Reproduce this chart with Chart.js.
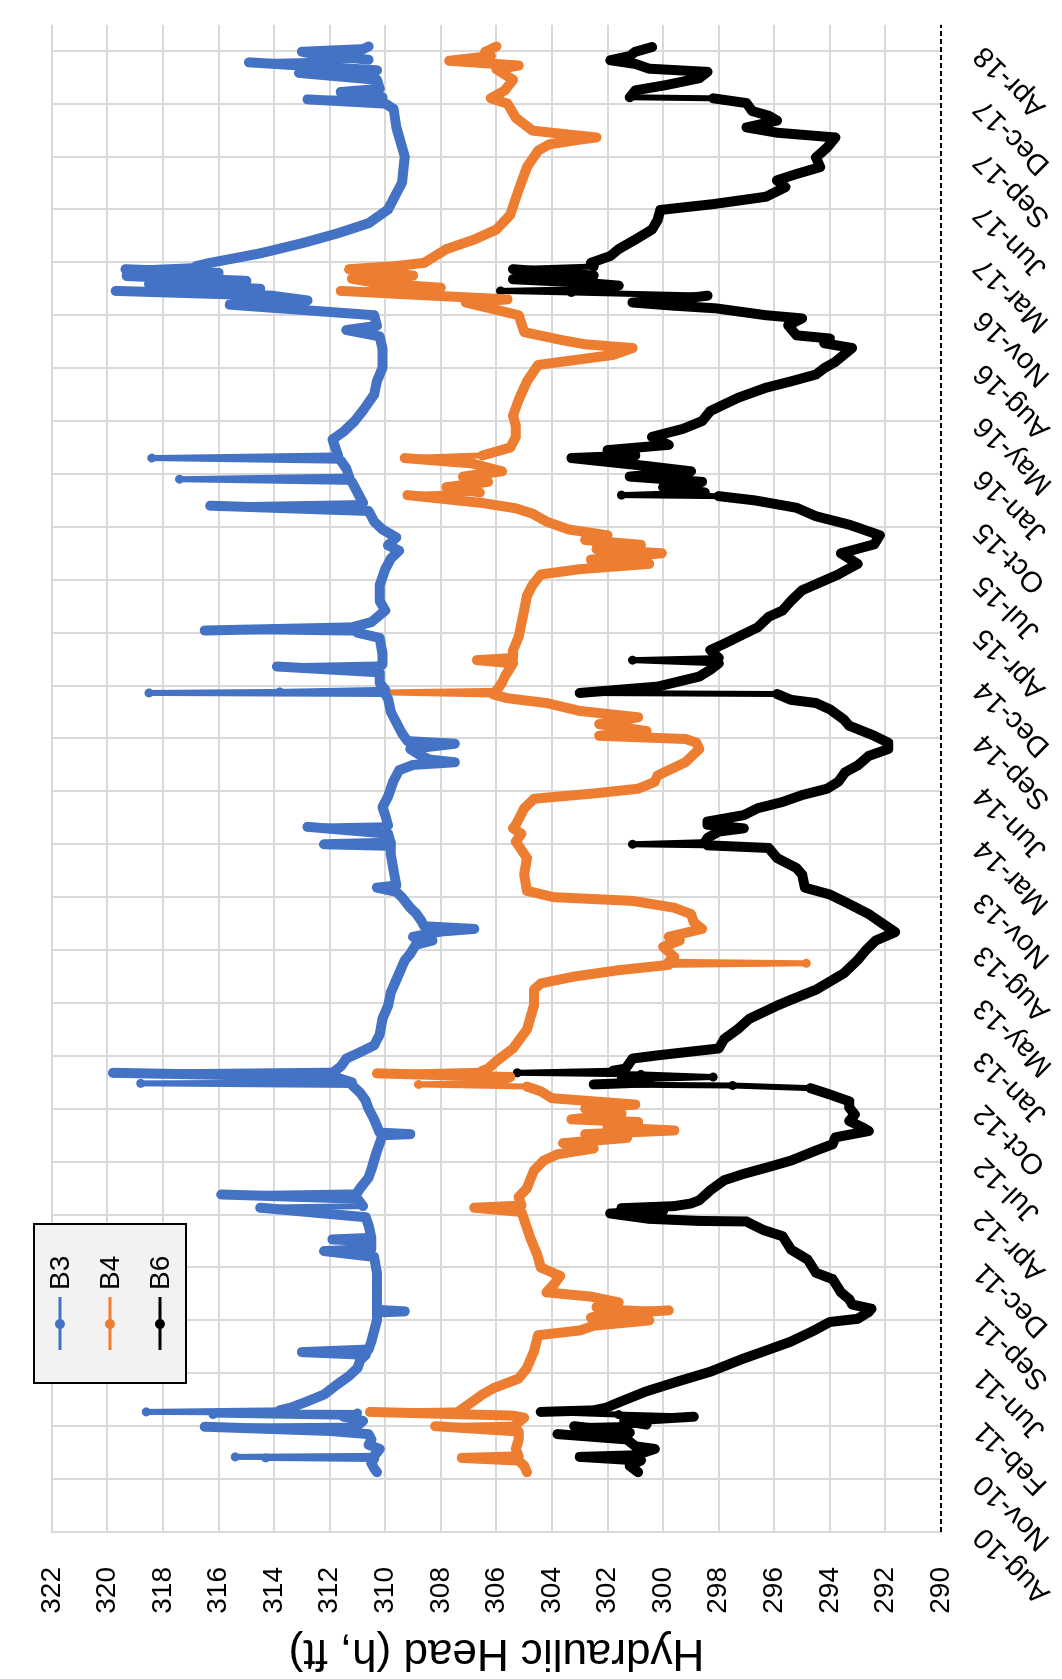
<!DOCTYPE html>
<html>
<head>
<meta charset="utf-8">
<script src="https://cdn.jsdelivr.net/npm/chart.js@4.4.1/dist/chart.umd.min.js"></script>
<style>
  html, body { margin: 0; padding: 0; background: #fff; }
  body { width: 1062px; height: 1679px; overflow: hidden; position: relative; }
  /* chart is drawn landscape, then turned a quarter turn counter-clockwise */
  #wrap { position: absolute; left: 0; top: 0; width: 1679px; height: 1062px;
          transform-origin: 0 0; transform: translateY(1679px) rotate(-90deg); }
</style>
</head>
<body>
<div id="wrap"><canvas id="chart" width="1679" height="1062"></canvas></div>
<script>
// date axis: one unit = one labelled step
const dateLabels = ['Aug-10','Nov-10','Feb-11','Jun-11','Sep-11','Dec-11','Apr-12','Jul-12','Oct-12',
  'Jan-13','May-13','Aug-13','Nov-13','Mar-14','Jun-14','Sep-14','Dec-14','Apr-15','Jul-15','Oct-15',
  'Jan-16','May-16','Aug-16','Nov-16','Mar-17','Jun-17','Sep-17','Dec-17','Apr-18'];
const dateMax = 28.49;
const headMin = 290, headMax = 322, headStep = 2;
const seriesNames = ['B3', 'B4', 'B6'];
const seriesColors = ['#4472C4', '#ED7D31', '#000000'];

// [date position, hydraulic head (ft)]
const b3 = [[1.13,310.3],[1.2,310.4],[1.3,310.5],[1.38,310.4],[1.40,314.3],[1.41,310.5],[1.42,315.4],[1.44,310.4],
  [1.5,310.3],[1.57,310.2],[1.65,310.6],[1.75,310.5],[1.85,310.6],[1.91,312.0],[1.99,316.5],[2.01,311.0],[2.1,310.8],
  [2.18,311.5],[2.22,316.2],[2.25,311.0],[2.27,318.6],[2.3,313.8],[2.35,313.4],[2.47,312.8],[2.6,312.2],[2.8,311.7],
  [2.95,311.3],[3.1,311.0],[3.25,310.9],[3.35,310.7],[3.4,313.0],[3.45,310.6],[3.6,310.5],[3.8,310.4],[4.0,310.3],
  [4.15,310.3],[4.17,309.3],[4.2,310.3],[4.5,310.3],[4.9,310.3],[5.2,310.4],[5.31,312.2],[5.35,310.5],[5.5,310.5],
  [5.53,311.9],[5.56,310.5],[5.8,310.6],[5.95,310.7],[6.13,314.5],[6.16,310.8],[6.3,311.0],[6.38,315.9],[6.42,311.0],
  [6.5,310.9],[6.7,310.6],[6.85,310.5],[7.2,310.3],[7.5,310.1],[7.52,309.1],[7.55,310.2],[7.8,310.4],[8.0,310.6],
  [8.15,310.7],[8.3,310.9],[8.45,311.2],[8.48,318.8],[8.5,311.2],[8.6,311.8],[8.68,319.8],[8.72,311.8],[8.8,311.6],
  [8.95,311.4],[9.07,310.9],[9.2,310.4],[9.4,310.2],[9.7,310.1],[9.95,309.9],[10.2,309.8],[10.56,309.5],[10.8,309.3],
  [10.93,309.1],[11.1,308.9],[11.18,308.3],[11.25,309.0],[11.35,308.0],[11.4,306.8],[11.45,308.6],[11.55,308.7],
  [11.7,308.9],[11.8,309.1],[12.0,309.4],[12.1,309.6],[12.18,310.3],[12.22,309.6],[12.5,309.7],[12.8,309.8],
  [12.97,309.8],[13.0,312.2],[13.03,309.8],[13.2,309.9],[13.33,312.8],[13.36,309.9],[13.55,310.0],[13.7,310.1],
  [13.9,309.9],[14.2,309.7],[14.4,309.5],[14.5,309.0],[14.55,307.5],[14.6,308.4],[14.7,308.8],[14.8,309.1],
  [14.9,307.5],[14.95,309.2],[15.1,309.4],[15.3,309.6],[15.5,309.8],[15.75,309.9],[15.84,310.0],[15.86,318.5],
  [15.88,313.8],[15.92,310.0],[16.05,310.2],[16.25,310.2],[16.36,313.9],[16.4,310.1],[16.6,310.1],[16.9,310.2],
  [17.0,311.0],[17.04,316.5],[17.1,311.2],[17.2,310.5],[17.42,310.0],[17.6,310.2],[17.9,310.2],[18.2,310.0],
  [18.4,309.8],[18.55,309.5],[18.65,309.9],[18.8,309.6],[18.95,310.1],[19.1,310.4],[19.3,310.6],[19.4,316.3],
  [19.45,310.8],[19.65,311.0],[19.85,311.2],[19.9,317.4],[19.95,311.3],[20.1,311.4],[20.25,311.6],[20.3,318.4],
  [20.35,311.7],[20.5,311.8],[20.65,311.9],[20.8,311.5],[21.0,311.1],[21.2,310.8],[21.5,310.4],[21.75,310.3],
  [22.0,310.1],[22.38,310.1],[22.6,310.2],[22.72,311.4],[22.8,310.3],[23.0,310.4],[23.1,313.0],[23.2,315.6],
  [23.28,312.8],[23.37,314.1],[23.46,319.7],[23.5,314.5],[23.59,318.5],[23.65,315.0],[23.74,319.3],[23.8,316.0],
  [23.87,319.35],[23.93,316.8],[23.99,316.3],[24.17,314.5],[24.36,313.0],[24.55,311.7],[24.74,310.6],[25.0,309.9],
  [25.5,309.4],[26.0,309.3],[26.55,309.6],[26.9,309.7],[27.0,310.0],[27.08,312.8],[27.12,310.1],[27.22,311.6],
  [27.28,310.2],[27.45,310.3],[27.58,313.1],[27.63,310.3],[27.78,314.9],[27.83,310.6],[27.93,312.5],[27.98,313.0],
  [28.03,310.8],[28.08,310.6]];

const b4 = [[1.13,304.9],[1.25,305.0],[1.35,305.2],[1.4,307.25],[1.43,305.2],[1.57,305.3],[1.75,305.2],[1.9,305.2],
  [2.0,308.2],[2.03,305.3],[2.16,305.0],[2.2,305.4],[2.27,310.55],[2.3,307.3],[2.45,306.9],[2.6,306.5],[2.72,306.1],
  [2.9,305.2],[3.1,304.9],[3.41,304.65],[3.72,304.5],[3.81,303.0],[3.9,302.5],[4.0,300.5],[4.05,302.6],[4.12,302.2],
  [4.19,299.8],[4.25,302.4],[4.34,301.6],[4.45,302.6],[4.53,304.2],[4.7,303.9],[4.84,303.7],[5.0,304.4],[5.27,304.55],
  [5.59,304.8],[5.9,305.0],[6.05,305.1],[6.13,306.8],[6.17,305.1],[6.33,305.2],[6.5,304.9],[6.83,304.65],[7.02,304.3],
  [7.14,303.8],[7.25,302.5],[7.35,303.6],[7.45,301.3],[7.52,302.8],[7.59,299.6],[7.65,302.0],[7.75,300.9],[7.8,303.3],
  [7.9,301.5],[8.0,302.8],[8.08,301.0],[8.2,304.0],[8.33,304.4],[8.42,304.9],[8.46,308.8],[8.5,306.0],[8.6,305.5],
  [8.67,310.3],[8.72,306.5],[8.76,306.3],[8.9,306.0],[9.14,305.4],[9.5,304.9],[9.95,304.65],[10.25,304.65],
  [10.37,304.4],[10.5,303.2],[10.62,301.6],[10.72,299.8],[10.75,294.85],[10.78,299.8],[10.87,299.6],[11.06,300.0],
  [11.18,299.4],[11.25,299.8],[11.4,298.6],[11.53,298.9],[11.68,299.0],[11.8,299.6],[11.93,301.1],[12.0,303.95],
  [12.12,304.9],[12.43,305.0],[12.74,304.9],[13.05,305.3],[13.2,305.1],[13.3,305.4],[13.37,305.3],[13.68,305.0],
  [13.86,304.65],[13.96,302.5],[14.05,300.9],[14.18,300.3],[14.3,300.2],[14.55,299.2],[14.8,298.7],[14.92,298.8],
  [14.99,299.2],[15.05,302.3],[15.14,300.6],[15.27,302.3],[15.4,300.9],[15.52,303.0],[15.67,304.2],[15.76,305.6],
  [15.83,306.1],[15.87,309.97],[15.9,306.0],[16.05,305.8],[16.17,305.7],[16.42,305.4],[16.48,306.7],[16.52,305.4],
  [16.67,305.4],[16.92,305.2],[17.17,305.1],[17.42,305.0],[17.7,304.9],[17.9,304.7],[18.1,304.4],[18.2,303.0],
  [18.3,300.5],[18.38,302.6],[18.45,301.2],[18.5,300.05],[18.58,302.4],[18.66,300.8],[18.75,302.8],[18.84,302.0],
  [18.95,303.4],[19.1,304.2],[19.25,304.7],[19.35,305.3],[19.45,306.5],[19.6,309.2],[19.65,306.6],[19.75,307.8],
  [19.85,306.3],[19.95,307.2],[20.05,305.8],[20.2,306.9],[20.3,309.3],[20.35,306.5],[20.5,305.5],[20.7,305.3],
  [20.9,305.3],[21.1,305.4],[21.4,305.2],[21.75,304.9],[22.06,304.5],[22.25,301.8],[22.38,301.1],[22.45,302.8],
  [22.53,303.65],[22.68,305.0],[23.0,305.2],[23.24,307.1],[23.3,305.6],[23.37,308.3],[23.46,311.6],[23.52,308.0],
  [23.6,310.2],[23.69,311.2],[23.75,309.0],[23.87,311.3],[23.93,309.6],[23.99,308.6],[24.25,307.8],[24.43,306.8],
  [24.62,306.0],[24.9,305.5],[25.37,305.2],[25.8,304.9],[26.11,304.5],[26.23,304.1],[26.32,303.0],[26.36,302.4],
  [26.42,303.5],[26.49,304.7],[26.73,305.3],[27.0,305.6],[27.1,306.2],[27.25,305.7],[27.45,305.4],[27.65,306.0],
  [27.72,305.2],[27.81,307.7],[27.9,306.2],[27.98,306.4],[28.08,306.0]];

const b6 = [[1.13,300.9],[1.25,301.2],[1.35,300.8],[1.42,303.0],[1.45,301.0],[1.57,300.3],[1.62,301.0],[1.75,301.3],
  [1.85,303.8],[1.88,301.2],[2.0,303.2],[2.03,300.6],[2.1,301.4],[2.18,298.9],[2.22,301.6],[2.27,304.4],[2.3,302.5],
  [2.35,302.05],[2.47,301.5],[2.66,300.6],[2.85,299.45],[3.03,298.3],[3.28,297.1],[3.41,296.4],[3.6,295.4],[3.8,294.6],
  [3.97,294.0],[4.03,293.0],[4.16,292.6],[4.22,292.5],[4.3,293.2],[4.4,293.3],[4.53,293.6],[4.78,293.9],[4.9,294.5],
  [5.15,294.8],[5.34,295.4],[5.59,295.7],[5.71,296.4],[5.84,296.9],[5.87,297.0],[5.88,298.7],[5.92,300.5],[6.02,301.9],
  [6.07,300.0],[6.12,301.5],[6.16,299.6],[6.21,299.0],[6.27,298.7],[6.46,298.3],[6.65,297.8],[6.77,297.1],[6.9,296.2],
  [7.02,295.4],[7.21,294.5],[7.33,293.9],[7.46,293.8],[7.58,292.6],[7.64,292.8],[7.77,293.3],[7.89,293.1],[8.02,293.3],
  [8.14,293.3],[8.27,294.0],[8.39,294.7],[8.44,297.5],[8.46,302.5],[8.5,300.5],[8.55,301.5],[8.6,298.2],[8.65,300.8],
  [8.68,305.25],[8.72,301.8],[8.76,301.35],[8.95,301.1],[9.01,300.2],[9.14,298.0],[9.32,297.8],[9.51,297.3],[9.7,296.9],
  [9.95,295.9],[10.06,295.4],[10.25,294.5],[10.56,293.5],[10.81,293.0],[11.0,292.7],[11.18,292.35],[11.34,291.65],
  [11.5,292.1],[11.68,292.6],[11.87,293.3],[12.05,294.0],[12.18,294.9],[12.43,295.0],[12.55,295.2],[12.74,295.9],
  [12.93,296.2],[12.98,298.4],[13.0,301.1],[13.04,298.5],[13.12,298.4],[13.24,298.0],[13.3,297.1],[13.37,298.4],
  [13.43,298.4],[13.55,297.1],[13.68,296.6],[13.8,295.7],[13.93,295.0],[14.05,294.1],[14.18,293.7],[14.36,293.45],
  [14.49,293.0],[14.67,292.6],[14.8,291.9],[14.92,291.9],[15.05,292.4],[15.24,293.3],[15.36,293.5],[15.55,294.0],
  [15.67,294.5],[15.73,295.4],[15.84,295.9],[15.86,303.0],[15.92,301.6],[15.98,300.2],[16.17,298.7],[16.3,298.3],
  [16.42,298.0],[16.48,301.1],[16.52,298.0],[16.67,298.3],[16.79,297.8],[16.92,297.3],[17.1,296.6],[17.3,296.2],
  [17.42,295.7],[17.6,295.4],[17.8,295.0],[18.1,293.7],[18.3,293.0],[18.5,293.6],[18.67,292.4],[18.84,292.2],
  [19.04,293.3],[19.2,294.5],[19.36,295.2],[19.5,296.7],[19.58,298.0],[19.6,301.5],[19.65,298.5],[19.75,300.0],
  [19.85,298.6],[19.95,301.2],[20.05,299.0],[20.15,300.6],[20.3,303.3],[20.35,301.0],[20.45,302.0],[20.55,299.8],
  [20.7,300.4],[20.85,299.3],[21.0,298.6],[21.19,298.3],[21.44,297.3],[21.63,296.3],[21.75,295.4],[21.88,294.5],
  [22.0,294.2],[22.12,293.8],[22.38,293.2],[22.47,294.2],[22.56,294.0],[22.62,295.2],[22.81,295.5],[22.94,295.0],
  [23.0,296.3],[23.13,298.1],[23.18,299.6],[23.24,301.1],[23.3,299.5],[23.37,298.4],[23.43,303.3],[23.46,305.85],
  [23.5,302.0],[23.56,301.6],[23.62,303.0],[23.68,305.4],[23.75,302.5],[23.87,305.4],[23.92,302.5],[23.99,302.6],
  [24.12,301.9],[24.25,301.6],[24.43,301.0],[24.62,300.4],[24.8,300.2],[24.99,300.1],[25.1,298.2],[25.24,296.3],
  [25.42,295.6],[25.55,295.9],[25.67,295.2],[25.8,294.35],[25.98,294.5],[26.17,294.1],[26.36,293.8],[26.45,295.9],
  [26.55,297.0],[26.68,295.9],[26.77,296.2],[26.86,296.8],[27.01,297.0],[27.1,298.2],[27.12,301.2],[27.25,301.0],
  [27.35,299.9],[27.48,298.7],[27.6,298.4],[27.66,300.5],[27.75,301.0],[27.82,301.9],[27.9,301.2],[27.98,301.0],
  [28.07,300.4]];

const FONT = 'Liberation Sans, Arial, sans-serif';
const GRID = '#d9d9d9';

function toPoints(rows) {
  return rows.map(r => ({ x: r[0], y: r[1] }));
}

// quick jumps (logger spikes) are drawn thinner than the steady trace
function segWidth(c) {
  const dv = Math.abs(c.p1.parsed.y - c.p0.parsed.y);
  const dt = Math.abs(c.p1.parsed.x - c.p0.parsed.x);
  return (dv > 2.5 && dt < 0.06) ? 6 : 10;
}

// dashed category axis line along the 290 ft edge
const dashedAxis = {
  id: 'dashedAxis',
  afterDatasetsDraw(chart) {
    const ctx = chart.ctx;
    const y = chart.scales.y.getPixelForValue(headMin);
    ctx.save();
    ctx.strokeStyle = '#000';
    ctx.lineWidth = 2;
    ctx.setLineDash([5, 3]);
    ctx.beginPath();
    ctx.moveTo(chart.chartArea.left, y);
    ctx.lineTo(chart.chartArea.right, y);
    ctx.stroke();
    ctx.restore();
  }
};

// boxed legend inside the plot, like the spreadsheet one
const boxLegend = {
  id: 'boxLegend',
  afterDraw(chart) {
    const ctx = chart.ctx;
    ctx.save();
    ctx.fillStyle = '#f2f2f2';
    ctx.fillRect(296, 34, 159, 152);
    ctx.strokeStyle = '#000';
    ctx.lineWidth = 2;
    ctx.strokeRect(296, 34, 159, 152);
    chart.data.datasets.forEach((ds, i) => {
      const y = 60 + i * 50;
      ctx.strokeStyle = ds.borderColor;
      ctx.lineWidth = 3;
      ctx.beginPath();
      ctx.moveTo(329, y);
      ctx.lineTo(382, y);
      ctx.stroke();
      ctx.fillStyle = ds.borderColor;
      ctx.beginPath();
      ctx.arc(355, y, 5, 0, Math.PI * 2);
      ctx.fill();
      ctx.fillStyle = '#000';
      ctx.font = '28px ' + FONT;
      ctx.textBaseline = 'middle';
      ctx.textAlign = 'left';
      ctx.fillText(ds.label, 389, y + 1);
    });
    ctx.restore();
  }
};

const datasets = [b3, b4, b6].map((rows, i) => ({
  label: seriesNames[i],
  data: toPoints(rows),
  borderColor: seriesColors[i],
  backgroundColor: seriesColors[i],
  borderWidth: 10,
  segment: { borderWidth: segWidth },
  pointRadius: 4.5,
  pointBorderWidth: 0,
  pointBackgroundColor: seriesColors[i],
  borderJoinStyle: 'round',
  borderCapStyle: 'round',
  tension: 0,
  fill: false
}));

const chart = new Chart(document.getElementById('chart').getContext('2d'), {
  type: 'line',
  data: { datasets: datasets },
  plugins: [dashedAxis, boxLegend],
  options: {
    responsive: false,
    animation: false,
    devicePixelRatio: 1,
    layout: { padding: { left: 0, right: 6, top: 24, bottom: 0 } },
    plugins: { legend: { display: false }, tooltip: { enabled: false } },
    scales: {
      x: {
        type: 'linear',
        min: 0,
        max: dateMax,
        afterFit: s => { s.height = 121; },
        grid: { color: GRID, lineWidth: 2, drawTicks: false },
        border: { display: false },
        ticks: {
          stepSize: 1,
          includeBounds: false,
          autoSkip: false,
          minRotation: 45,
          maxRotation: 45,
          padding: 26,
          color: '#000',
          font: { family: FONT, size: 29 },
          callback: v => Number.isInteger(v) ? (dateLabels[v] || '') : ''
        }
      },
      y: {
        min: headMin,
        max: headMax,
        afterFit: s => { s.width = 147; },
        grid: {
          drawTicks: false,
          lineWidth: 2,
          color: c => (c.tick && c.tick.value === headMin) ? 'rgba(0,0,0,0)' : GRID
        },
        border: { display: true, color: GRID, width: 2 },
        ticks: {
          stepSize: headStep,
          padding: 35,
          color: '#000',
          font: { family: FONT, size: 28 }
        },
        title: {
          display: true,
          text: 'Hydraulic Head (h, ft)',
          color: '#000',
          font: { family: FONT, size: 44 },
          padding: { top: 0, bottom: 0 }
        }
      }
    }
  }
});
</script>
</body>
</html>
